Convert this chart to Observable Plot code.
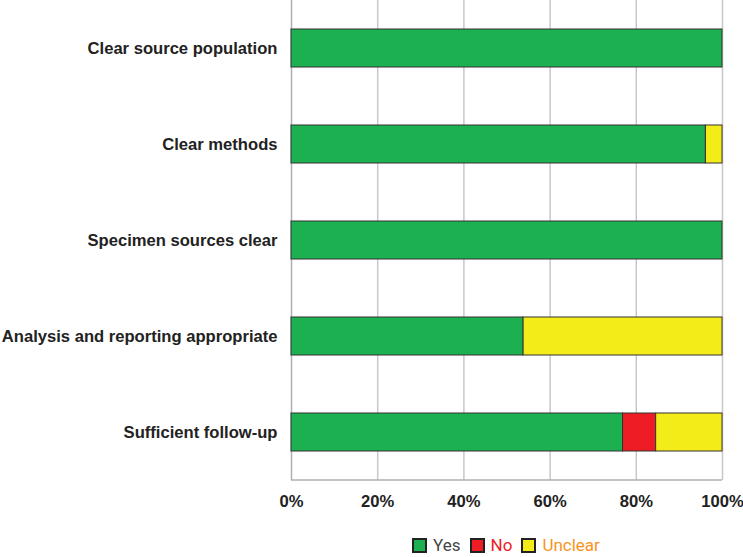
<!DOCTYPE html>
<html>
<head>
<meta charset="utf-8">
<script src="https://cdn.jsdelivr.net/npm/d3@7"></script>
<script src="https://cdn.jsdelivr.net/npm/@observablehq/plot@0.6"></script>
<style>
  body { margin: 0; background: #fff; font-family: "Liberation Sans", Arial, sans-serif; }
  #chart { width: 743px; }
  #chart svg { display: block; }
  .legend { margin-left: 295px; width: 431px; margin-top: 15px; height: 20px; display: flex; justify-content: center; align-items: center; font-size: 17px; font-family: "Roboto", "Liberation Sans", sans-serif; line-height: 20px; }
  .legend span.sw { display: inline-block; width: 11px; height: 11px; border: 2px solid #222; margin-right: 6px; }
  .legend span.lab { margin-right: 9px; }
</style>
</head>
<body>
<div id="chart"></div>
<script>
const questions = ["Clear source population", "Clear methods", "Specimen sources clear", "Analysis and reporting appropriate", "Sufficient follow-up"];
const answers = ["Yes", "No", "Unclear"];
const colors = ["#1db050", "#ee1c25", "#f3ec19"];
const labelColors = ["#444444", "#ee1c25", "#f7941d"];
const yesPct = [100, 96.15, 100, 53.85, 76.92];
const noPct = [0, 0, 0, 0, 7.69];
const unclearPct = [0, 3.85, 0, 46.15, 15.39];
const xTicks = [0, 20, 40, 60, 80, 100];

const data = [];
questions.forEach((q, i) => {
  [yesPct, noPct, unclearPct].forEach((arr, j) => {
    if (arr[i] > 0) data.push({question: q, answer: answers[j], value: arr[i]});
  });
});

const plot = Plot.plot({
  width: 743,
  height: 520,
  marginLeft: 291,
  marginRight: 21,
  marginTop: 0,
  marginBottom: 40,
  style: {fontFamily: "'Liberation Sans', Arial, sans-serif", fontSize: "16.6px", color: "#222"},
  x: {domain: [0, 100], ticks: xTicks, tickFormat: d => d + "%", label: null},
  y: {domain: questions, paddingInner: 0.6, paddingOuter: 0.3, label: null},
  color: {domain: answers, range: colors},
  marks: [
    Plot.gridX(xTicks.slice(1), {stroke: "#c8c8c8", strokeOpacity: 1, strokeWidth: 1.5}),
    Plot.ruleX([0], {stroke: "#b0b0b0", strokeWidth: 1.5}),
    Plot.barX(data, Plot.stackX({x: "value", y: "question", fill: "answer", order: answers, stroke: "#333", strokeWidth: 1})),
    Plot.axisX({ticks: xTicks, tickFormat: d => d + "%", tickSize: 0, tickPadding: 15, fontWeight: "bold", fontSize: 16.6, fill: "#222", label: null}),
    Plot.axisY({tickSize: 0, tickPadding: 14, fontWeight: "bold", fontSize: 16.6, fill: "#222", label: null})
  ]
});
document.getElementById("chart").appendChild(plot);

// bottom axis baseline from the x and y scales
const xs = plot.scale("x");
const ys = plot.scale("y");
const x0 = xs.apply(0), x1 = xs.apply(100);
const yBottom = ys.range[1];
d3.select(plot).append("line")
  .attr("x1", x0).attr("x2", x1)
  .attr("y1", yBottom).attr("y2", yBottom)
  .attr("stroke", "#b0b0b0").attr("stroke-width", 1.5);

const legend = document.createElement("div");
legend.className = "legend";
answers.forEach((a, i) => {
  const sw = document.createElement("span");
  sw.className = "sw";
  sw.style.background = colors[i];
  const lab = document.createElement("span");
  lab.className = "lab";
  lab.style.color = labelColors[i];
  lab.textContent = a;
  legend.appendChild(sw);
  legend.appendChild(lab);
});
document.getElementById("chart").appendChild(legend);
</script>
</body>
</html>
